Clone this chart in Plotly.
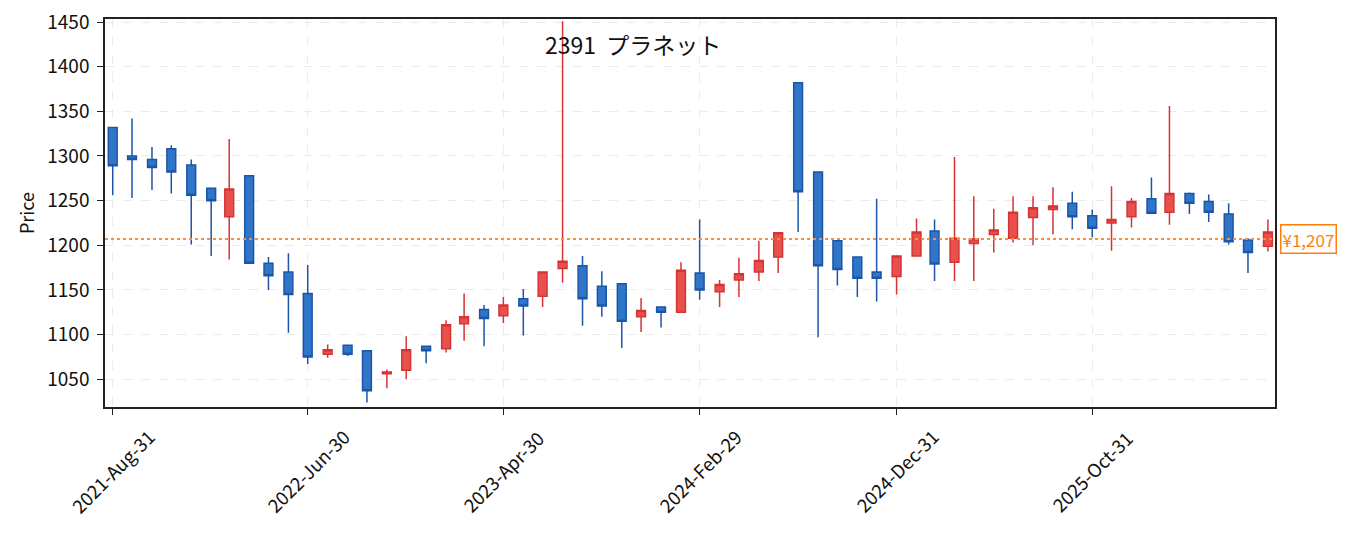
import pandas as pd
import plotly.graph_objects as go

# Monthly OHLC for 2391
dates = pd.date_range('2021-08-31', periods=60, freq='ME')

opens = [1332, 1300, 1296, 1308, 1290, 1264, 1232, 1278, 1180, 1170,
         1146, 1078, 1088, 1082, 1056, 1060, 1087, 1084, 1112, 1128,
         1121, 1140, 1143, 1174, 1177, 1154, 1157, 1120, 1131, 1125,
         1169, 1148, 1161, 1170, 1187, 1382, 1282, 1205, 1187, 1170,
         1165, 1188, 1216, 1181, 1202, 1212, 1208, 1231, 1240, 1247,
         1233, 1225, 1232, 1252, 1237, 1258, 1249, 1235, 1206, 1199]
highs = [1332, 1342, 1310, 1312, 1296, 1264, 1319, 1278, 1187, 1191,
         1178, 1089, 1088, 1082, 1061, 1098, 1087, 1116, 1146, 1133,
         1142, 1151, 1170, 1451, 1188, 1171, 1157, 1141, 1131, 1181,
         1229, 1161, 1186, 1205, 1214, 1382, 1282, 1205, 1187, 1252,
         1188, 1230, 1229, 1299, 1255, 1241, 1255, 1255, 1265, 1260,
         1240, 1266, 1253, 1276, 1356, 1259, 1257, 1247, 1208, 1229]
lows = [1256, 1253, 1262, 1258, 1201, 1188, 1184, 1180, 1150, 1102,
        1067, 1074, 1076, 1024, 1040, 1050, 1068, 1080, 1093, 1087,
        1113, 1099, 1131, 1158, 1110, 1120, 1085, 1103, 1108, 1125,
        1139, 1131, 1142, 1160, 1169, 1215, 1097, 1155, 1142, 1137,
        1145, 1188, 1160, 1160, 1160, 1192, 1203, 1200, 1212, 1218,
        1209, 1194, 1220, 1236, 1223, 1235, 1226, 1201, 1169, 1193]
closes = [1289, 1296, 1287, 1282, 1256, 1250, 1263, 1180, 1166, 1145,
          1075, 1083, 1078, 1037, 1058, 1083, 1082, 1111, 1120, 1118,
          1133, 1132, 1170, 1182, 1140, 1132, 1115, 1127, 1125, 1172,
          1150, 1156, 1168, 1183, 1214, 1260, 1177, 1173, 1163, 1163,
          1188, 1215, 1179, 1208, 1207, 1217, 1237, 1242, 1244, 1232,
          1219, 1229, 1249, 1236, 1258, 1247, 1237, 1204, 1192, 1215]

ref_price = 1207
tick_dates = pd.to_datetime(['2021-08-31', '2022-06-30', '2023-04-30',
                             '2024-02-29', '2024-12-31', '2025-10-31'])
y_ticks = [1050, 1100, 1150, 1200, 1250, 1300, 1350, 1400, 1450]

fig = go.Figure()

fig.add_trace(go.Candlestick(
    x=dates, open=opens, high=highs, low=lows, close=closes,
    increasing=dict(line=dict(color='#d63434', width=1.5), fillcolor='#e8504c'),
    decreasing=dict(line=dict(color='#1c55a8', width=1.5), fillcolor='#2f76c9'),
    whiskerwidth=0,
    showlegend=False,
))

fig.add_hline(y=ref_price, line=dict(color='#ff8c2e', width=2, dash='dot'))

fig.add_annotation(
    x=1, xref='paper', xanchor='left', xshift=5,
    y=ref_price, yref='y',
    text='¥1,207', showarrow=False,
    font=dict(color='#ff7f0e', size=17),
    bgcolor='white', bordercolor='#ff7f0e', borderwidth=1.5, borderpad=1,
)

fig.add_annotation(
    x=0.451, xref='paper', y=0.936, yref='paper', yanchor='middle',
    text='2391  プラネット', showarrow=False,
    font=dict(size=23, color='#111111'),
)

# rotated date labels centred on their ticks
for d in tick_dates:
    fig.add_annotation(
        x=d, xref='x', y=0, yref='paper', yanchor='middle', yshift=-64,
        text=d.strftime('%Y-%b-%d'), textangle=-45, showarrow=False,
        font=dict(size=18.5, color='#111111'),
    )

axis_style = dict(
    showline=True, linecolor='#222222', linewidth=1.5, mirror=True,
    ticks='outside', tickcolor='#222222', ticklen=6,
    showgrid=True, gridcolor='#ebebeb', griddash='dash', gridwidth=1,
    zeroline=False, automargin=False,
)

fig.update_layout(
    width=1355, height=536,
    margin=dict(l=97, r=88, t=11, b=137),
    plot_bgcolor='white', paper_bgcolor='white',
    font=dict(family='Noto Sans CJK JP, Noto Sans, sans-serif', size=15, color='#111111'),
    xaxis=dict(
        range=['2021-08-19', '2026-08-11'],
        tickvals=tick_dates, showticklabels=False,
        rangeslider=dict(visible=False),
        **axis_style,
    ),
    yaxis=dict(
        range=[1018.9, 1453.4],
        tickvals=y_ticks,
        title=dict(text='Price', font=dict(size=18), standoff=8),
        tickfont=dict(size=19),
        ticklabelstandoff=4,
        ticklabeloverflow='allow',
        **axis_style,
    ),
)

fig.write_html('out.html')
